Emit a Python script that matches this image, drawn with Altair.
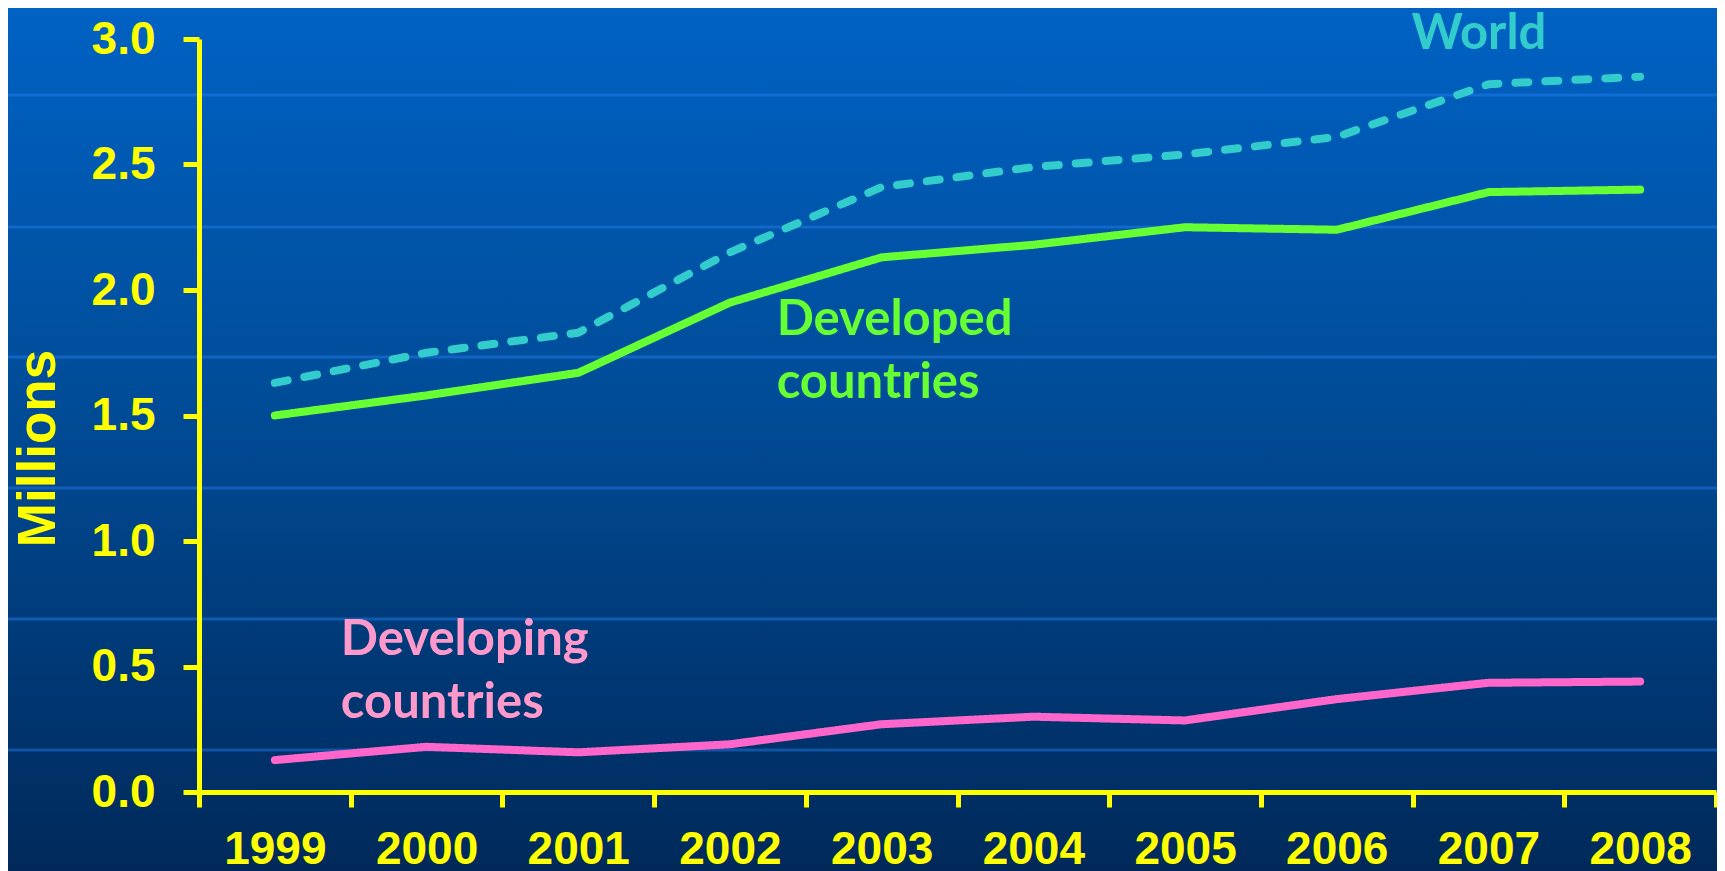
import altair as alt
import pandas as pd

# ---- data ----
years = [str(y) for y in range(1999, 2009)]
world = [1.63, 1.75, 1.83, 2.15, 2.41, 2.49, 2.54, 2.61, 2.82, 2.85]
developed = [1.50, 1.58, 1.67, 1.95, 2.13, 2.18, 2.25, 2.24, 2.39, 2.40]
developing = [0.127, 0.18, 0.158, 0.19, 0.27, 0.30, 0.285, 0.37, 0.435, 0.44]
series_names = ["World", "Developed countries", "Developing countries"]
y_ticks = [0.0, 0.5, 1.0, 1.5, 2.0, 2.5, 3.0]

label_texts = ["World", "Developed\ncountries", "Developing\ncountries"]
label_years = ["2007", "2003", "1999"]
label_values = [2.962, 1.821, 0.546]

bg_line_values = [2.777, 2.251, 1.733, 1.211, 0.689, 0.167]

# ---- styles ----
YELLOW = "#FFFF00"
line_colors = ["#33CCCC", "#66FF33", "#FF66CC"]
text_colors = ["#33CCCC", "#66FF33", "#FF99CC"]
text_dx = [-77, -105, 66]

W, H = 1517, 753
PAD = {"left": 191, "top": 31, "right": 1, "bottom": 80}

rows = []
for name, vals in zip(series_names, [world, developed, developing]):
    for yr, v in zip(years, vals):
        rows.append({"year": yr, "value": v, "series": name})
df = pd.DataFrame(rows)

x_scale = alt.Scale(type="band", domain=years, paddingInner=0, paddingOuter=0)
y_scale = alt.Scale(domain=[0, 3], nice=False, zero=True)

x_axis = alt.Axis(
    title=None, labelAngle=0, tickBand="extent", grid=False,
    domainColor=YELLOW, domainWidth=5, tickColor=YELLOW, tickWidth=5, tickSize=15,
    labelColor=YELLOW, labelFont="Liberation Sans", labelFontSize=46,
    labelFontWeight="bold", labelPadding=20, zindex=1,
)
y_axis = alt.Axis(
    values=y_ticks, format=".1f", grid=False,
    domainColor=YELLOW, domainWidth=5, tickColor=YELLOW, tickWidth=5, tickSize=16,
    labelColor=YELLOW, labelFont="Liberation Sans", labelFontSize=46,
    labelFontWeight="bold", labelPadding=28,
    title="Millions", titleColor=YELLOW, titleFont="Liberation Sans",
    titleFontSize=53, titleFontWeight="bold", titleAngle=270,
    titleX=-161, titleY=409, titleAlign="center", titleBaseline="middle",
    zindex=1,
)

# background gradient panel covering the whole chart
bg = alt.Chart(alt.Data(values=[{}])).mark_rect(
    fill=alt.Gradient(
        gradient="linear", x1=0, y1=0, x2=0, y2=1,
        stops=[
            alt.GradientStop(offset=0, color="#0062C4"),
            alt.GradientStop(offset=0.45, color="#004C98"),
            alt.GradientStop(offset=1, color="#00295A"),
        ],
    )
).encode(
    x=alt.value(-PAD["left"]), x2=alt.value(W + PAD["right"]),
    y=alt.value(-PAD["top"]), y2=alt.value(H + PAD["bottom"]),
)

bg_lines = alt.Chart(pd.DataFrame({"value": bg_line_values})).mark_rule(
    color="#2a86ff", strokeWidth=3, opacity=0.4
).encode(
    y=alt.Y("value:Q", scale=y_scale, axis=y_axis),
    x=alt.value(-PAD["left"]), x2=alt.value(W + PAD["right"]),
)

lines = alt.Chart(df).mark_line(strokeWidth=8, strokeCap="round", strokeJoin="round").encode(
    x=alt.X("year:O", scale=x_scale, axis=x_axis, sort=years),
    y=alt.Y("value:Q", scale=y_scale, axis=y_axis),
    color=alt.Color("series:N", scale=alt.Scale(domain=series_names, range=line_colors), legend=None),
    strokeDash=alt.StrokeDash(
        "series:N",
        scale=alt.Scale(domain=series_names, range=[[13, 17], [1, 0], [1, 0]]),
        legend=None,
    ),
    order=alt.Order("year:O"),
)

layers = [bg, bg_lines, lines]
for txt, yr, val, col, dx in zip(label_texts, label_years, label_values, text_colors, text_dx):
    t = alt.Chart(pd.DataFrame({"year": [yr], "value": [val], "label": [txt]})).mark_text(
        align="left", baseline="alphabetic", font="Lato", fontSize=49,
        fontWeight="bold", color=col, dx=dx, lineBreak="\n", lineHeight=63,
    ).encode(
        x=alt.X("year:O", scale=x_scale, axis=x_axis),
        y=alt.Y("value:Q", scale=y_scale, axis=y_axis),
        text="label:N",
    )
    layers.append(t)

chart = alt.layer(*layers).properties(
    width=W, height=H,
    autosize=alt.AutoSizeParams(type="none"),
    padding=PAD,
).configure_view(stroke=None).configure(background="#00295A")

chart.save("out.html", embed_options={"renderer": "svg", "actions": False})
